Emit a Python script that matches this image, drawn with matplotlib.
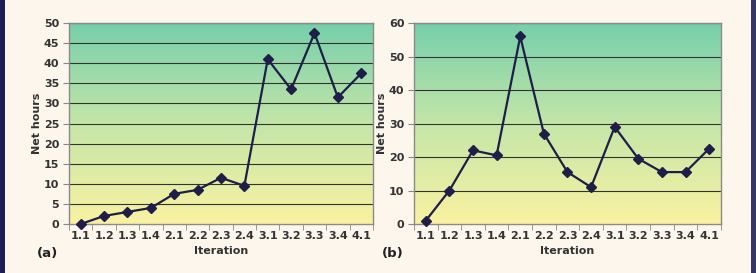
import matplotlib
matplotlib.use("Agg")
import matplotlib.pyplot as plt
import numpy as np
from matplotlib.colors import LinearSegmentedColormap

ITERATIONS = ["1.1", "1.2", "1.3", "1.4", "2.1", "2.2", "2.3", "2.4",
              "3.1", "3.2", "3.3", "3.4", "4.1"]
HOURS_A = [0, 2, 3, 4, 7.5, 8.5, 11.5, 9.5, 41, 33.5, 47.5, 31.5, 37.5]
HOURS_B = [1, 10, 22, 20.5, 56, 27, 15.5, 11, 29, 19.5, 15.5, 15.5, 22.5]
YTICKS_A = list(range(0, 51, 5))
YTICKS_B = list(range(0, 61, 10))

_BG = "#fcf6ec"
_NAVY = "#1c1f52"
_LINE = "#1e1e48"

plt.rcParams["font.family"] = ["DejaVu Sans"]
plt.rcParams["font.weight"] = "bold"

grad = LinearSegmentedColormap.from_list("g", ["#faf2a2", "#c4e6a8", "#76cfab"])
TXT = dict(fontsize=8, fontweight="bold", color="#333")


def panel(fig, rect, values, yticks, tag, ylab_x):
    ax = fig.add_axes(rect)
    ymax = yticks[-1]
    ax.set_xlim(-0.5, len(values) - 0.5)
    ax.set_ylim(0, ymax)
    ax.imshow(np.linspace(0, 1, 256).reshape(-1, 1), cmap=grad, origin="lower",
              extent=(-0.5, len(values) - 0.5, 0, ymax), aspect="auto", zorder=0)
    for t in yticks[1:]:
        ax.axhline(t, color="#333333", lw=0.8, zorder=1)
    x = np.arange(len(values))
    ax.plot(x, values, color=_LINE, lw=1.6, marker="D", ms=5, zorder=3,
            clip_on=False)
    ax.set_xticks(x)
    ax.set_xticklabels(ITERATIONS, **TXT)
    ax.set_xticks(np.arange(-0.5, len(values)), minor=True)
    ax.tick_params(axis="x", which="major", length=0, pad=5)
    ax.tick_params(axis="x", which="minor", length=4, color="#888", direction="out")
    ax.set_yticks(yticks)
    ax.set_yticklabels([str(t) for t in yticks], **TXT)
    ax.tick_params(axis="y", length=4, color="#888", pad=3)
    for s in ax.spines.values():
        s.set_color("#8a8a8a")
        s.set_linewidth(1.0)
    ax.set_xlabel("Iteration", labelpad=4, **TXT)
    ax.set_ylabel("Net hours", **TXT)
    ax.yaxis.set_label_coords(ylab_x, 0.5)
    ax.text(-0.105, -0.145, tag, transform=ax.transAxes, fontsize=9.5,
            fontweight="bold", color="#222", ha="left", va="center")
    return ax


fig = plt.figure(figsize=(7.56, 2.73), dpi=100)
fig.patch.set_facecolor(_BG)
panel(fig, [0.0913, 0.1795, 0.402, 0.736], HOURS_A, YTICKS_A, "(a)", -0.088)
panel(fig, [0.5476, 0.1795, 0.406, 0.736], HOURS_B, YTICKS_B, "(b)", -0.088)
fig.add_artist(plt.Rectangle((0, 0), 5 / 756, 1, transform=fig.transFigure,
                             color=_NAVY, lw=0))
fig.add_artist(plt.Rectangle((751 / 756, 0), 5 / 756, 1, transform=fig.transFigure,
                             color="#34366a", lw=0))
fig.savefig("out.png", dpi=100, facecolor=_BG)
